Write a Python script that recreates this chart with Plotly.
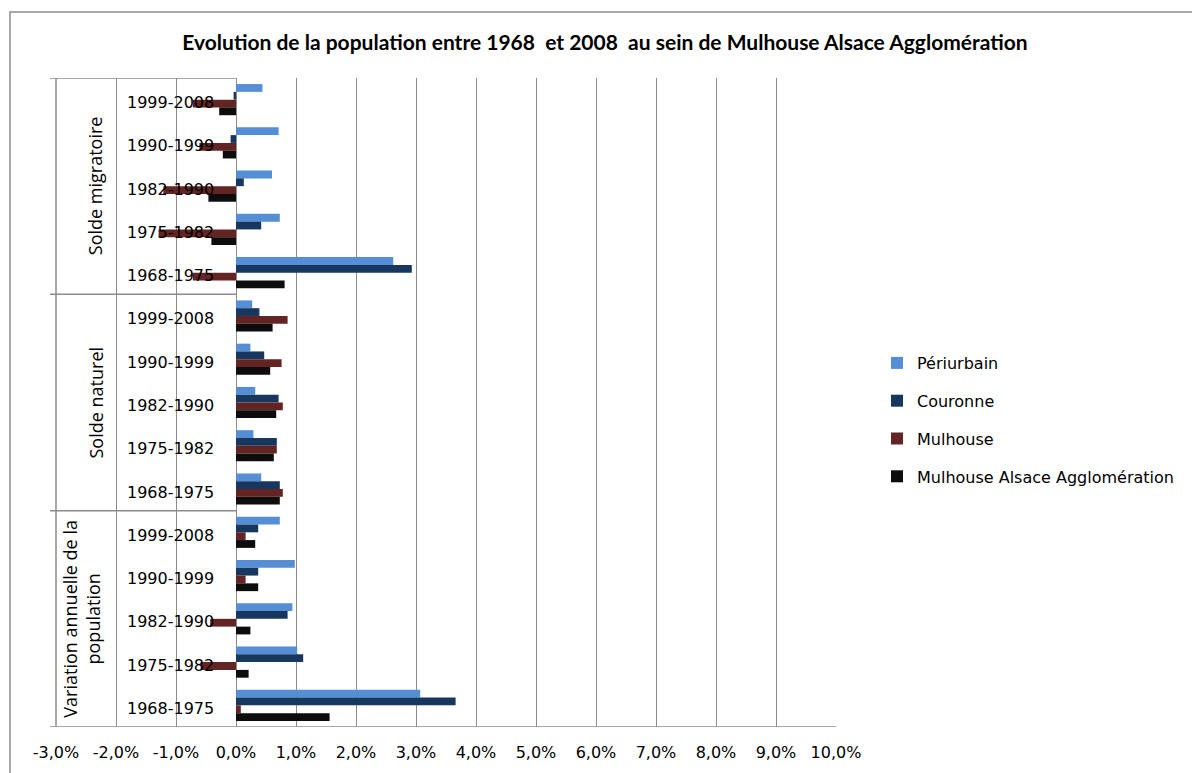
import plotly.graph_objects as go

# ---- data (percent per year) ----
groups = ["Solde migratoire", "Solde naturel", "Variation annuelle de la<br>population"]
periods = ["1999-2008", "1990-1999", "1982-1990", "1975-1982", "1968-1975"]

series_names = ["Périurbain", "Couronne", "Mulhouse", "Mulhouse Alsace Agglomération"]
series_colors = ["#558ED5", "#17375E", "#632523", "#0D0D0D"]

# order: Solde migratoire (5 periods), Solde naturel (5), Variation (5)
periurbain = [0.44, 0.71, 0.60, 0.73, 2.62,
              0.27, 0.24, 0.32, 0.29, 0.42,
              0.73, 0.98, 0.94, 1.02, 3.07]
couronne = [-0.04, -0.09, 0.13, 0.42, 2.93,
            0.39, 0.47, 0.71, 0.68, 0.73,
            0.37, 0.37, 0.86, 1.12, 3.66]
mulhouse = [-0.72, -0.61, -1.21, -1.29, -0.72,
            0.86, 0.76, 0.78, 0.68, 0.78,
            0.16, 0.16, -0.43, -0.59, 0.08]
maa = [-0.28, -0.22, -0.46, -0.41, 0.81,
       0.61, 0.57, 0.67, 0.63, 0.73,
       0.32, 0.37, 0.24, 0.21, 1.56]

tick_vals = [-3, -2, -1, 0, 1, 2, 3, 4, 5, 6, 7, 8, 9, 10]
tick_labels = ["-3,0%", "-2,0%", "-1,0%", "0,0%", "1,0%", "2,0%", "3,0%", "4,0%",
               "5,0%", "6,0%", "7,0%", "8,0%", "9,0%", "10,0%"]

# unique category keys
cats = [g.replace("<br>", " ") + " " + p for g in groups for p in periods]
cat_period_labels = [p for g in groups for p in periods]

values = [periurbain, couronne, mulhouse, maa]

fig = go.Figure()
for i, (name, color, vals) in enumerate(zip(series_names, series_colors, values)):
    fig.add_trace(go.Bar(
        y=cats, x=vals, name=name, orientation="h", legendgroup=f"g{i}",
        marker=dict(color=color, line=dict(width=0)),
    ))

GRID = "#8C8C8C"
W, H = 1192, 773
L, R, T, B = 56, 356, 78, 46
pw = W - L - R
ph = H - T - B

fig.update_layout(
    width=W, height=H,
    margin=dict(l=L, r=R, t=T, b=B, autoexpand=False),
    paper_bgcolor="white", plot_bgcolor="white",
    barmode="group", bargap=0.28, bargroupgap=0,
    font=dict(family="DejaVu Sans", size=16, color="#000000"),
    title=dict(
        text="<b>Evolution de la population entre 1968  et 2008  au sein de Mulhouse Alsace Agglomération</b>",
        x=605 / W, xanchor="center", y=1 - 43 / H, yanchor="middle",
        font=dict(family="Lato", size=21, color="#000000"),
        automargin=False,
    ),
    showlegend=True,
    legend=dict(
        x=(877 - L) / pw, xanchor="left",
        y=(H - B - 346) / ph, yanchor="top",
        traceorder="grouped",
        font=dict(family="DejaVu Sans", size=16, color="#000000"),
        tracegroupgap=14, bgcolor="rgba(0,0,0,0)",
    ),
    xaxis=dict(
        range=[-3, 10], tickvals=tick_vals, ticktext=tick_labels,
        showgrid=True, gridcolor=GRID, gridwidth=1,
        zeroline=True, zerolinecolor=GRID, zerolinewidth=1,
        showline=False, ticks="", ticklabelstandoff=14,
        tickfont=dict(family="DejaVu Sans", size=16, color="#000000"),
        fixedrange=True, automargin=False,
    ),
    yaxis=dict(
        type="category", categoryorder="array", categoryarray=cats,
        range=[len(cats) - 0.5, -0.5],
        showticklabels=False, showgrid=False, zeroline=False, showline=False,
        ticks="", automargin=False, fixedrange=True,
    ),
)

shapes = []
x_left = (50 - L) / pw
x_zero = 3 / 13
for yb in [-0.5, 4.5, 9.5]:
    shapes.append(dict(type="line", xref="paper", yref="y", x0=x_left, x1=x_zero,
                       y0=yb, y1=yb, line=dict(color=GRID, width=1.5)))
shapes.append(dict(type="line", xref="paper", yref="y", x0=x_left, x1=1,
                   y0=14.5, y1=14.5, line=dict(color=GRID, width=1.5)))
# left border of the label table (-3%)
shapes.append(dict(type="line", xref="paper", yref="paper", x0=0, x1=0, y0=0, y1=1,
                   line=dict(color=GRID, width=1.5)))
# chart-area border
shapes.append(dict(type="rect", xref="paper", yref="paper",
                   x0=(10 - L) / pw, x1=(W + 20 - L) / pw,
                   y0=-(H + 20 - (H - B)) / ph, y1=((H - B) - 12) / ph,
                   line=dict(color="#8C8C8C", width=1.5), fillcolor="rgba(0,0,0,0)"))
fig.update_layout(shapes=shapes)

ann = []
for i, lab in enumerate(cat_period_labels):
    ann.append(dict(x=-1.1, y=i, xref="x", yref="y", text=lab, showarrow=False,
                    xanchor="center", yanchor="middle", yshift=-3,
                    font=dict(family="DejaVu Sans", size=16, color="#000000")))
group_x = [-2.35, -2.35, -2.57]
for gi, g in enumerate(groups):
    ann.append(dict(x=group_x[gi], y=gi * 5 + 2, xref="x", yref="y", text=g,
                    showarrow=False, textangle=-90, xanchor="center", yanchor="middle",
                    font=dict(family="Open Sans", size=18, color="#000000")))
fig.update_layout(annotations=ann)

fig.write_html("out.html",
               config={"displayModeBar": False},
               post_script="document.body.style.margin='0';document.body.style.overflow='hidden';")
